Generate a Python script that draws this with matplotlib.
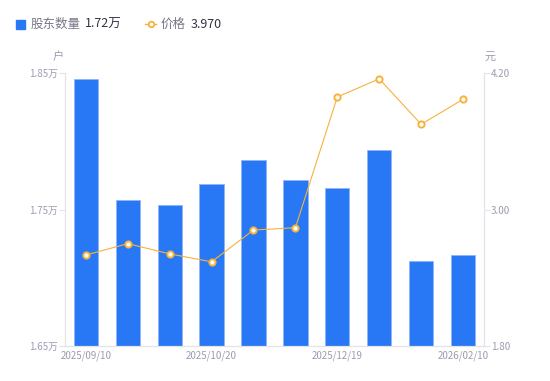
import matplotlib
matplotlib.use('Agg')
import matplotlib.pyplot as plt
from matplotlib.lines import Line2D

plt.rcParams['font.family'] = ['Noto Sans CJK SC', 'DejaVu Sans']

# 股东数量 (万户) and 价格 (元), one value per report date
holders = [1.846, 1.757, 1.753, 1.769, 1.786, 1.772, 1.766, 1.794, 1.712, 1.717]
price = [2.60, 2.70, 2.61, 2.54, 2.82, 2.84, 3.99, 4.15, 3.75, 3.97]
tick_pos = [0, 3, 6, 9]
tick_labels = ['2025/09/10', '2025/10/20', '2025/12/19', '2026/02/10']
left_ticks = [1.65, 1.75, 1.85]
right_ticks = [1.80, 3.00, 4.20]

BLUE = '#2878f5'
ORANGE = '#f7b23b'
GRAY = '#9a9cb0'
AXIS = '#e3e3e8'


def main():
    fig = plt.figure(figsize=(5.5, 3.81), dpi=100)
    ax = fig.add_axes([0.118, 0.092, 0.762, 0.716])
    ax2 = ax.twinx()

    x = list(range(len(holders)))
    ax.bar(x, holders, width=0.58, color=BLUE, edgecolor='#8fb6fa', linewidth=0.6, zorder=2)
    ax.set_ylim(1.65, 1.85)
    ax.set_xlim(-0.5, len(holders) - 0.5)
    ax.set_yticks(left_ticks)
    ax.set_yticklabels([f'{v:.2f}万' for v in left_ticks])

    ax2.plot(x, price, color=ORANGE, linewidth=0.8, marker='o', markersize=4.5,
             markerfacecolor='white', markeredgecolor=ORANGE, markeredgewidth=1.4, zorder=3)
    ax2.set_ylim(1.80, 4.20)
    ax2.set_yticks(right_ticks)
    ax2.set_yticklabels([f'{v:.2f}' for v in right_ticks])

    ax.set_xticks(tick_pos)
    ax.set_xticklabels(tick_labels)

    for a in (ax, ax2):
        for s in a.spines.values():
            s.set_color(AXIS)
        a.spines['top'].set_visible(False)
        a.tick_params(axis='y', colors=AXIS, labelcolor=GRAY, labelsize=7, length=4, pad=1)
        a.tick_params(axis='x', length=0, labelcolor=GRAY, labelsize=7, pad=3)

    ax.set_zorder(ax2.get_zorder() - 1)
    ax2.patch.set_visible(False)

    fig.text(58 / 550, 1 - 57 / 381, '户', color=GRAY, fontsize=8, ha='center', va='center')
    fig.text(490 / 550, 1 - 57 / 381, '元', color=GRAY, fontsize=8, ha='center', va='center')

    # legend
    y = 1 - 24 / 381
    fig.patches.append(plt.Rectangle((16 / 550, y - 0.012), 9 / 550, 9 / 381 * 1.0,
                                     transform=fig.transFigure, color=BLUE, figure=fig))
    fig.text(31 / 550, y, '股东数量', color='#777788', fontsize=9, va='center')
    fig.text(85 / 550, y, '1.72万', color='#333344', fontsize=9, va='center')
    fig.lines.append(Line2D([145 / 550, 156 / 550], [y, y], transform=fig.transFigure,
                            color=ORANGE, linewidth=1, marker='o', markevery=[0],
                            markersize=0, figure=fig))
    fig.lines.append(Line2D([150.5 / 550], [y], transform=fig.transFigure, color=ORANGE,
                            marker='o', markersize=4, markerfacecolor='white',
                            markeredgewidth=1.3, figure=fig))
    fig.text(161 / 550, y, '价格', color='#777788', fontsize=9, va='center')
    fig.text(191 / 550, y, '3.970', color='#333344', fontsize=9, va='center')

    fig.savefig('out.png', dpi=100)


if __name__ == '__main__':
    main()
